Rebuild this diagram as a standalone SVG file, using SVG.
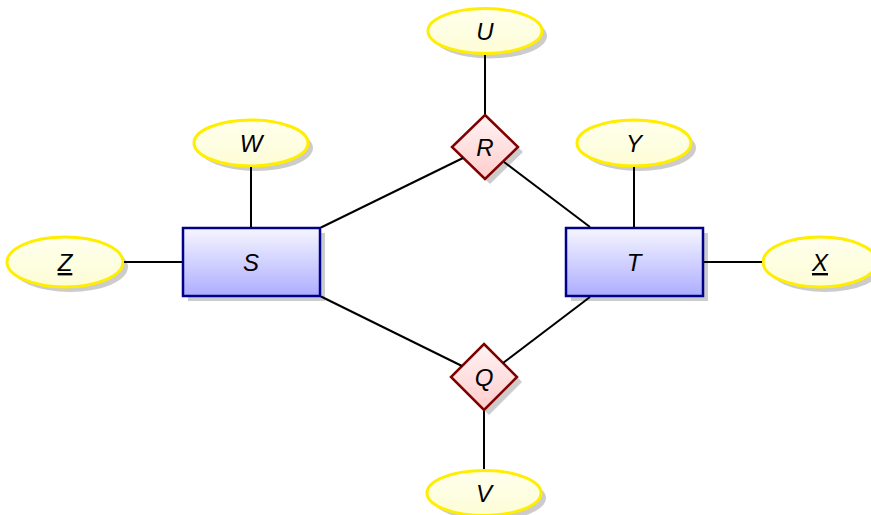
<svg xmlns="http://www.w3.org/2000/svg" width="871" height="515" viewBox="0 0 871 515">
<defs>
<linearGradient id="gBox" x1="0" y1="0" x2="0" y2="1">
<stop offset="0" stop-color="#f6f6ff"/>
<stop offset="1" stop-color="#adadff"/>
</linearGradient>
<linearGradient id="gRel" x1="0" y1="0" x2="0" y2="1">
<stop offset="0" stop-color="#fff4f4"/>
<stop offset="1" stop-color="#ffcccc"/>
</linearGradient>
<linearGradient id="gAtt" x1="0" y1="0" x2="0" y2="1">
<stop offset="0" stop-color="#ffffee"/>
<stop offset="1" stop-color="#fdfdd6"/>
</linearGradient>
</defs>
<style>
.shadow{fill:#cccccc;stroke:none}
.ent{fill:url(#gBox);stroke:#000088;stroke-width:2.5}
.rel{fill:url(#gRel);stroke:#800000;stroke-width:2.5}
.att{fill:url(#gAtt);stroke:#ffee00;stroke-width:3}
.edge{stroke:#000;stroke-width:2;fill:none}
.lbl{font-family:"Liberation Sans",Arial,sans-serif;font-style:italic;font-size:24px;fill:#000;text-anchor:middle}
.key{text-decoration:underline}
</style>
<g id="node-S">
<rect class="shadow" x="188" y="233" width="137" height="68"/>
<rect class="ent" x="183" y="228" width="137" height="68"/>
<text class="lbl" x="251" y="271" font-size="24">S</text>
</g>
<g id="node-T">
<rect class="shadow" x="571" y="233" width="137" height="68"/>
<rect class="ent" x="566" y="228" width="137" height="68"/>
<text class="lbl" x="634" y="271" font-size="24">T</text>
</g>
<g id="node-R">
<polygon class="shadow" points="490,120 523,152 490,184 457,152"/>
<polygon class="rel" points="485,115 518,147 485,179 452,147"/>
<text class="lbl" x="485" y="156" font-size="24">R</text>
</g>
<g id="node-Q">
<polygon class="shadow" points="489,349 522,382 489,415 456,382"/>
<polygon class="rel" points="484,344 517,377 484,410 451,377"/>
<text class="lbl" x="484" y="386" font-size="24">Q</text>
</g>
<g id="node-U">
<ellipse class="shadow" cx="490" cy="36" rx="57" ry="22.5"/>
<ellipse class="att" cx="485" cy="31" rx="57" ry="22.5"/>
<text class="lbl" x="485" y="40" font-size="24">U</text>
</g>
<g id="node-W">
<ellipse class="shadow" cx="256" cy="148" rx="57" ry="23"/>
<ellipse class="att" cx="251" cy="143" rx="57" ry="23"/>
<text class="lbl" x="251" y="152" font-size="24">W</text>
</g>
<g id="node-Y">
<ellipse class="shadow" cx="639" cy="148" rx="57" ry="23"/>
<ellipse class="att" cx="634" cy="143" rx="57" ry="23"/>
<text class="lbl" x="634" y="152" font-size="24">Y</text>
</g>
<g id="node-Z">
<ellipse class="shadow" cx="70" cy="267" rx="58" ry="25"/>
<ellipse class="att" cx="65" cy="262" rx="58" ry="25"/>
<text class="lbl key" x="65" y="271" font-size="24">Z</text>
</g>
<g id="node-X">
<ellipse class="shadow" cx="825" cy="267" rx="57" ry="25"/>
<ellipse class="att" cx="820" cy="262" rx="57" ry="25"/>
<text class="lbl key" x="820" y="271" font-size="24">X</text>
</g>
<g id="node-V">
<ellipse class="shadow" cx="489" cy="498" rx="57" ry="22.5"/>
<ellipse class="att" cx="484" cy="493" rx="57" ry="22.5"/>
<text class="lbl" x="484" y="502" font-size="24">V</text>
</g>
<g id="connectors">
<line class="edge" x1="251" y1="167" x2="251" y2="227"/>
<line class="edge" x1="124" y1="262" x2="182" y2="262"/>
<line class="edge" x1="321" y1="227.5" x2="463" y2="158"/>
<line class="edge" x1="504" y1="162" x2="590" y2="227"/>
<line class="edge" x1="321" y1="296.5" x2="462" y2="366"/>
<line class="edge" x1="503" y1="363" x2="590" y2="297"/>
<line class="edge" x1="485" y1="55" x2="485" y2="114"/>
<line class="edge" x1="484" y1="411" x2="484" y2="469"/>
<line class="edge" x1="634" y1="167" x2="634" y2="227"/>
<line class="edge" x1="704" y1="262" x2="762" y2="262"/>
</g>
</svg>
